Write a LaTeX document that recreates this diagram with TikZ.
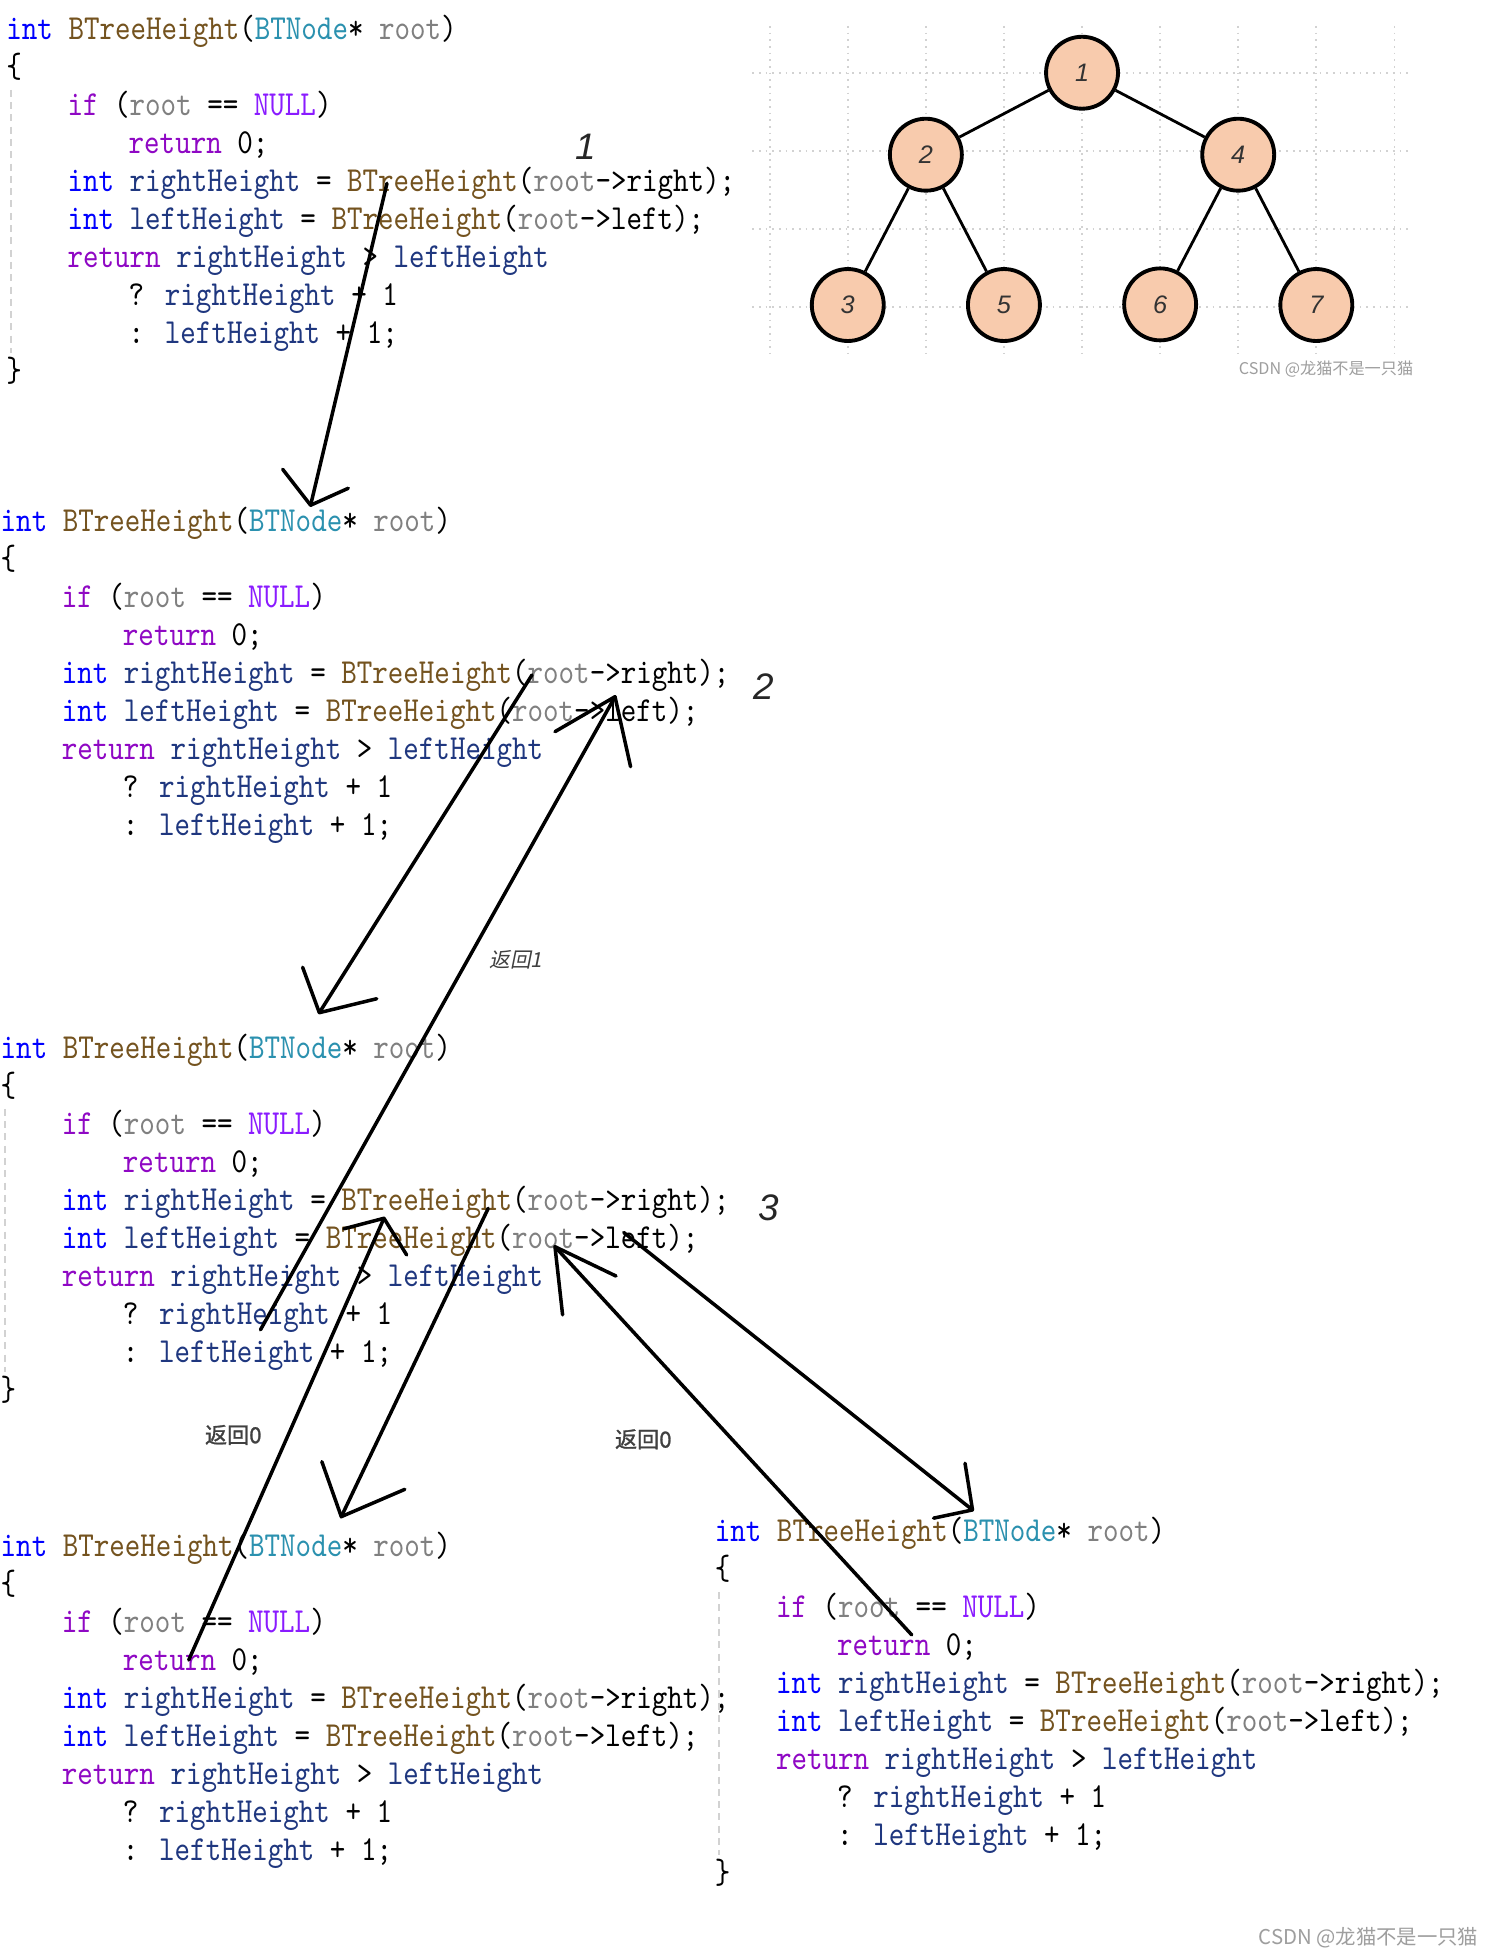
\documentclass[tikz,border=0pt]{standalone}
\usepackage{fontspec}
\usepackage{xcolor}
\usepackage{tikz}
\usetikzlibrary{positioning,calc}

\setmainfont{Liberation Sans}
\setsansfont{Liberation Sans}
\newfontfamily\codefont{lmmono10-regular}[Extension=.otf,FakeStretch=0.842]
\newfontfamily\cjkfont{Noto Sans CJK SC}
\newfontfamily\cjkbold{Noto Sans CJK SC}[FakeBold=1.2]
\newfontfamily\cjkslant{Noto Sans CJK SC}[FakeSlant=0.2]

\definecolor{kwblue}{HTML}{0000FF}
\definecolor{ctlpurple}{HTML}{8F08C4}
\definecolor{macroviolet}{HTML}{8A1BFF}
\definecolor{fnbrown}{HTML}{74531F}
\definecolor{typeteal}{HTML}{2B91AF}
\definecolor{paramgray}{HTML}{808080}
\definecolor{localblue}{HTML}{1F377F}
\definecolor{nodepeach}{HTML}{F8CBAD}
\definecolor{gridgray}{HTML}{D2D2D2}

\newcommand{\kw}[1]{\textcolor{kwblue}{#1}}
\newcommand{\ctl}[1]{\textcolor{ctlpurple}{#1}}
\newcommand{\mc}[1]{\textcolor{macroviolet}{#1}}
\newcommand{\fn}[1]{\textcolor{fnbrown}{#1}}
\newcommand{\ty}[1]{\textcolor{typeteal}{#1}}
\newcommand{\pa}[1]{\textcolor{paramgray}{#1}}
\newcommand{\lo}[1]{\textcolor{localblue}{#1}}

% one copy of the function, #2/#3 = left edge and baseline of its first line
\newcommand{\codeblock}[3]{%
  \node[code] (#1-1) at (#2,#3) {\kw{int} \fn{BTreeHeight}(\ty{BTNode}* \pa{root})};
  \node[code] (#1-2) at (#2,#3+30.45) {\{};
  \node[code] (#1-3) at (#2+49,#3+60.9) {\ctl{if} (\pa{root} == \mc{NULL})};
  \node[code] (#1-4) at (#2+98,#3+91.35) {\ctl{return} 0;};
  \node[code] (#1-5) at (#2+49,#3+121.8) {\kw{int} \lo{rightHeight} = \fn{BTreeHeight}(\pa{root}->right);};
  \node[code] (#1-6) at (#2+49,#3+152.25) {\kw{int} \lo{leftHeight} = \fn{BTreeHeight}(\pa{root}->left);};
  \node[code] (#1-7) at (#2+49,#3+182.7) {\ctl{return} \lo{rightHeight} > \lo{leftHeight}};
  \node[code] (#1-8) at (#2+98,#3+213.15) {? \lo{rightHeight} + 1};
  \node[code] (#1-9) at (#2+98,#3+243.6) {: \lo{leftHeight} + 1;};
}
% closing brace and indent guide
\newcommand{\codeclose}[3]{%
  \node[code] (#1-10) at (#2,#3+274.05) {\}};
  \draw[guide] (#2+4,#3+40.5) -- (#2+4,#3+251.5);
}

\begin{document}
\begin{tikzpicture}[
  x=0.012475cm, y=-0.012475cm,
  code/.style={anchor=base west, inner sep=0pt, font=\codefont\fontsize{10}{11}\selectfont},
  guide/.style={draw=gridgray, line width=0.45pt, dash pattern=on 2pt off 1.5pt},
  grid/.style={draw=gridgray, line width=0.5pt, dash pattern=on 0.5pt off 1.4pt},
  tnode/.style={circle, draw, line width=1.1pt, fill=nodepeach, minimum size=0.72cm, inner sep=0pt,
    font=\itshape\fontsize{7.2}{8}\selectfont, text=black!80},
  edge/.style={line width=0.8pt},
  stroke/.style={line width=1pt, line cap=round, line join=round},
  steplabel/.style={font=\itshape\fontsize{10.5}{12}\selectfont, text=black!85},
  retlabel/.style={font=\cjkbold\fontsize{6.3}{7}\selectfont, text=black!75},
  watermark/.style={font=\cjkfont\fontsize{4.6}{6}\selectfont, text=black!38}
]
\useasboundingbox (0,0) rectangle (1192,1568);
\fill[white] (0,0) rectangle (1192,1568);
\clip (0,0) rectangle (1192,1568);

% code copies
\codeblock{top}{4.6}{31.5}
\codeclose{top}{4.6}{31.5}
\codeblock{mid}{0}{426.2}
\codeblock{low}{0}{848.3}
\codeclose{low}{0}{848.3}
\codeblock{nulr}{0}{1247.8}
\codeblock{null}{572.5}{1235.8}
\codeclose{null}{572.5}{1235.8}

% tree
\foreach \gx in {0,...,8}
  \draw[grid] (617+62.6*\gx,20.8) -- (617+62.6*\gx,283);
\foreach \gy in {58.3,120.9,183.5,246.1}
  \draw[grid] (603,\gy) -- (1131,\gy);

\node[tnode] (t1) at (867.4,58.3) {1};
\node[tnode] (t2) at (742.2,124) {2};
\node[tnode] (t4) at (992.6,124) {4};
\node[tnode] (t3) at (679.6,244.5) {3};
\node[tnode] (t5) at (804.8,244.5) {5};
\node[tnode] (t6) at (930,244) {6};
\node[tnode] (t7) at (1055.2,244.5) {7};
\draw[edge] (t1) -- (t2);
\draw[edge] (t1) -- (t4);
\draw[edge] (t2) -- (t3);
\draw[edge] (t2) -- (t5);
\draw[edge] (t4) -- (t6);
\draw[edge] (t4) -- (t7);
\node[watermark] (wm-tree) at (1063,296) {CSDN @龙猫不是一只猫};

% calls and returns
\coordinate (c1-s) at (310.2,147);
\coordinate (c1-t) at (249,405);
\coordinate (c2-s) at (426.5,541);
\coordinate (c2-t) at (256,811.8);
\coordinate (r2-s) at (208.8,1066);
\coordinate (r2-t) at (493,558.5);
\coordinate (c3-s) at (391.4,968.6);
\coordinate (c3-t) at (273.6,1215.8);
\coordinate (r3-s) at (151.3,1330.7);
\coordinate (r3-t) at (307.8,976.6);
\coordinate (c4-s) at (500,988);
\coordinate (c4-t) at (779.6,1210.4);
\coordinate (r4-s) at (730.9,1310.6);
\coordinate (r4-t) at (444.9,999.4);

\draw[stroke] (c1-s) -- (c1-t);
\draw[stroke] (c1-t) ++(-22.4,-28.8) -- (c1-t) -- ++(30.2,-13.6);
\draw[stroke] (c2-s) -- (c2-t);
\draw[stroke] (c2-t) ++(-13.4,-36.4) -- (c2-t) -- ++(46,-11.2);
\draw[stroke] (r2-s) -- (r2-t);
\draw[stroke] (r2-t) ++(-48.1,28) -- (r2-t) -- ++(12.5,56.1);
\draw[stroke] (c3-s) -- (c3-t);
\draw[stroke] (c3-t) ++(-15.6,-44.1) -- (c3-t) -- ++(50.9,-21.9);
\draw[stroke] (r3-s) -- (r3-t);
\draw[stroke] (r3-t) ++(-32,8.4) -- (r3-t) -- ++(18.2,29.4);
\draw[stroke] (c4-s) -- (c4-t);
\draw[stroke] (c4-t) ++(-6,-37.4) -- (c4-t) -- ++(-31.2,6.6);
\draw[stroke] (r4-s) -- (r4-t);
\draw[stroke] (r4-t) ++(6.1,54.6) -- (r4-t) -- ++(48.9,23.5);

\node[steplabel] (step-1) at (469.4,117.6) {1};
\node[steplabel] (step-2) at (612.4,550.5) {2};
\node[steplabel] (step-3) at (616.5,968.6) {3};
\node[retlabel, font=\cjkslant\fontsize{5.9}{7}\selectfont] (ret-1) at (413.6,769) {返回1};
\node[retlabel] (ret-0l) at (187,1150.3) {返回0};
\node[retlabel] (ret-0r) at (515.7,1153.8) {返回0};

\node[watermark, font=\cjkfont\fontsize{5.8}{7}\selectfont] (wm-page) at (1097,1553) {CSDN @龙猫不是一只猫};
\end{tikzpicture}
\end{document}
